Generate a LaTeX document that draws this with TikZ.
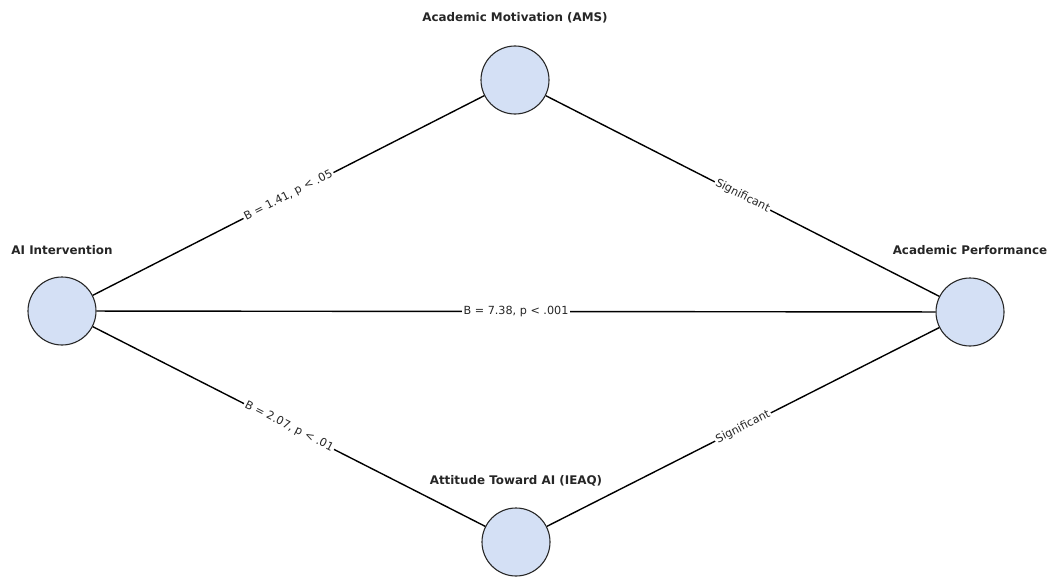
\documentclass[tikz,border=0pt]{standalone}
\usepackage{fontspec}
\setmainfont{DejaVu Sans}
\definecolor{nodefill}{RGB}{212,224,245}
\definecolor{nodeedge}{RGB}{40,40,40}
\begin{document}
\begin{tikzpicture}[x=1pt,y=-1pt,
  var/.style={circle, draw=nodeedge, line width=1.1pt, fill=nodefill, minimum size=68pt, inner sep=0pt},
  ttl/.style={font=\bfseries\fontsize{11.9}{14}\selectfont, text=black!85},
  path/.style={draw=black, line width=1.4pt},
  elab/.style={midway, sloped, fill=white, inner sep=1.5pt, font=\fontsize{11.2}{13}\selectfont, text=black!85}
]
\useasboundingbox (0,0) rectangle (1052,578);
\node[var] (ai) at (62,311) {};
\node[var] (ams) at (515,80) {};
\node[var] (ap) at (970,312) {};
\node[var] (att) at (516,542) {};
\draw[path] (ai) -- node[elab] {B = 1.41, p < .05} (ams);
\draw[path] (ams) -- node[elab] {Significant} (ap);
\draw[path] (ai) -- node[elab] {B = 7.38, p < .001} (ap);
\draw[path] (ai) -- node[elab] {B = 2.07, p < .01} (att);
\draw[path] (att) -- node[elab] {Significant} (ap);
\node[ttl] (tai) at (62,250) {AI Intervention};
\node[ttl] (tams) at (515,18) {Academic Motivation (AMS)};
\node[ttl] (tap) at (970,250) {Academic Performance};
\node[ttl] (tatt) at (516,481) {Attitude Toward AI (IEAQ)};
\end{tikzpicture}
\end{document}
